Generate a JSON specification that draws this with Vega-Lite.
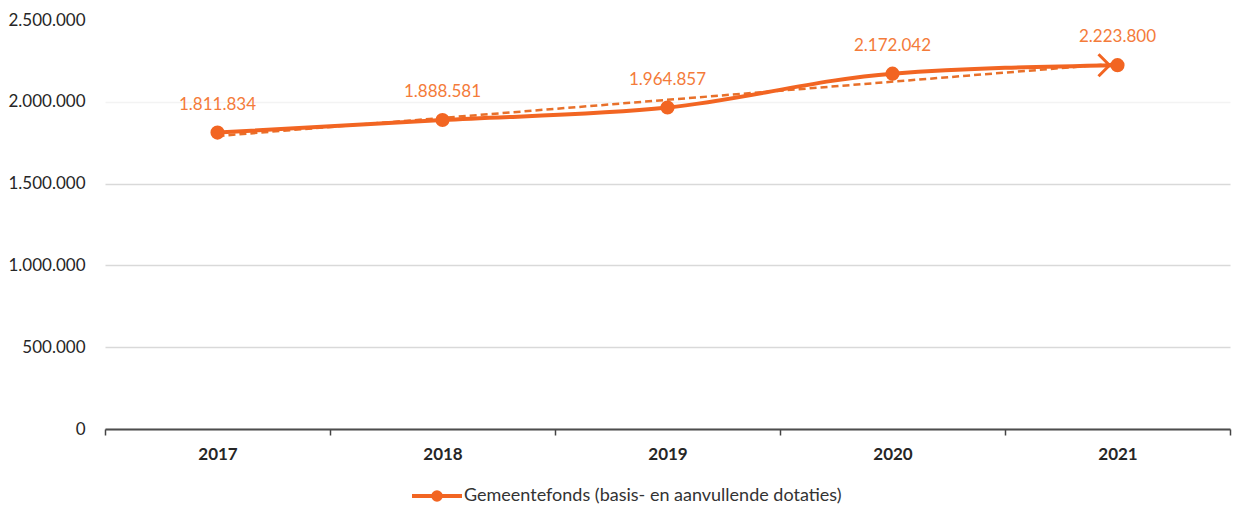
{
  "$schema": "https://vega.github.io/schema/vega-lite/v6.json",
  "width": 1125,
  "height": 409,
  "autosize": {"type": "none"},
  "padding": {"left": 105, "top": 20, "right": 9, "bottom": 83},
  "background": "white",
  "config": {
    "view": {"stroke": null},
    "font": "Lato",
    "locale": {"number": {"decimal": ",", "thousands": ".", "grouping": [3], "currency": ["€", ""]}}
  },
  "data": {
    "values": [
      {"year": 2017, "value": 1811834, "series": "Gemeentefonds (basis- en aanvullende dotaties)"},
      {"year": 2018, "value": 1888581, "series": "Gemeentefonds (basis- en aanvullende dotaties)"},
      {"year": 2019, "value": 1964857, "series": "Gemeentefonds (basis- en aanvullende dotaties)"},
      {"year": 2020, "value": 2172042, "series": "Gemeentefonds (basis- en aanvullende dotaties)"},
      {"year": 2021, "value": 2223800, "series": "Gemeentefonds (basis- en aanvullende dotaties)"}
    ]
  },
  "encoding": {
    "x": {
      "field": "year", "type": "ordinal",
      "scale": {"type": "band", "paddingInner": 0, "paddingOuter": 0},
      "axis": {
        "title": null, "labelAngle": 0, "labelFont": "Lato", "labelFontWeight": "bold",
        "labelFontSize": 17, "labelColor": "#262626", "labelPadding": 11,
        "tickBand": "extent", "ticks": true, "tickSize": 6, "tickColor": "#444444", "tickWidth": 1.5,
        "domainColor": "#4d4d4d", "domainWidth": 2, "grid": false
      }
    },
    "y": {
      "field": "value", "type": "quantitative",
      "scale": {"domain": [0, 2500000], "nice": false},
      "axis": {
        "title": null, "domain": false, "ticks": false, "labelPadding": 20,
        "labelFont": "Lato", "labelFontSize": 17, "labelColor": "#262626",
        "values": [0, 500000, 1000000, 1500000, 2000000, 2500000], "format": ",d",
        "gridColor": {"condition": [{"test": "datum.value >= 2500000", "value": "#ffffff"}, {"test": "datum.value >= 2000000", "value": "#f3f3f3"}], "value": "#d9d9d9"},
        "gridWidth": 1.5
      }
    }
  },
  "layer": [
    {
      "transform": [{"regression": "value", "on": "year"}],
      "mark": {"type": "line", "color": "#E8702A", "strokeWidth": 2.5, "strokeDash": [7, 4]}
    },
    {
      "mark": {"type": "line", "interpolate": "monotone", "strokeWidth": 4},
      "encoding": {
        "color": {
          "field": "series", "type": "nominal",
          "scale": {"range": ["#F26522"]},
          "legend": {
            "title": null, "orient": "none", "legendX": 305, "legendY": 449,
            "labelFont": "Lato", "labelFontSize": 18, "labelColor": "#333333", "labelOffset": 0,
            "labelLimit": 0,
            "symbolType": "M-1,0L1,0M0.15,0A0.15,0.15,0,1,1,-0.15,0A0.15,0.15,0,1,1,0.15,0Z",
            "symbolSize": 2500,
            "encode": {"symbols": {"update": {"fill": {"value": "#F26522"}, "stroke": {"value": "#F26522"}, "strokeWidth": {"value": 4}, "opacity": {"value": 1}}}}
          }
        }
      }
    },
    {
      "mark": {"type": "point", "shape": "circle", "filled": true, "size": 200, "color": "#F26522", "opacity": 1}
    },
    {
      "transform": [{"filter": "datum.year == 2021"}],
      "mark": {"type": "point", "shape": "M-1,-1L0,0L-1,1", "filled": false, "size": 484, "color": "#F26522", "strokeWidth": 3, "xOffset": -8, "opacity": 1}
    },
    {
      "mark": {"type": "text", "dy": -28, "baseline": "middle", "font": "Lato", "fontSize": 17, "color": "#F47B3A"},
      "encoding": {"text": {"field": "value", "type": "quantitative", "format": ",d"}}
    }
  ]
}
